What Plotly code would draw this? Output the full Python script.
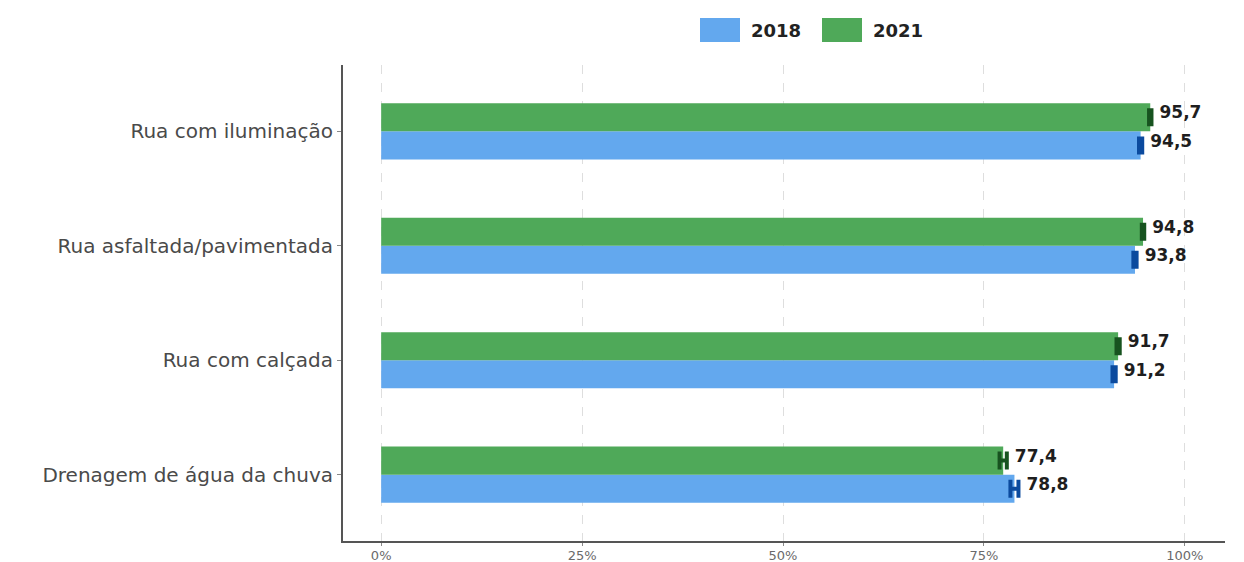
import plotly.graph_objects as go

categories = ["Drenagem de água da chuva", "Rua com calçada", "Rua asfaltada/pavimentada", "Rua com iluminação"]
series_names = ["2018", "2021"]
values_2018 = [78.8, 91.2, 93.8, 94.5]
values_2021 = [77.4, 91.7, 94.8, 95.7]
ci_2018 = [0.5, 0.2, 0.2, 0.2]
ci_2021 = [0.45, 0.2, 0.15, 0.15]
labels_2018 = ["78,8", "91,2", "93,8", "94,5"]
labels_2021 = ["77,4", "91,7", "94,8", "95,7"]
x_ticks = [0, 25, 50, 75, 100]
x_tick_labels = ["0%", "25%", "50%", "75%", "100%"]

blue = "#63a8ee"
green = "#4fa959"
dark_blue = "#0b4a9e"
dark_green = "#17531f"
font_family = "'DejaVu Sans', 'Open Sans', sans-serif"

W, H = 1244, 562
OFF = 8  # page body margin offset
ML, MR = 343 - OFF, 1244 - (1225 - OFF)
MT, MB = 65 - OFF, (562 + OFF) - 541

fig = go.Figure()
fig.add_trace(go.Bar(
    y=categories, x=values_2018, orientation="h", name=series_names[0],
    marker=dict(color=blue, line=dict(width=0)),
    error_x=dict(type="data", array=ci_2018, color=dark_blue, thickness=4, width=9),
    showlegend=False,
))
fig.add_trace(go.Bar(
    y=categories, x=values_2021, orientation="h", name=series_names[1],
    marker=dict(color=green, line=dict(width=0)),
    error_x=dict(type="data", array=ci_2021, color=dark_green, thickness=4, width=9),
    showlegend=False,
))

label_font = dict(family=font_family, size=17, color="#1e1e1e", weight="bold")
cat_index = list(range(len(categories)))
fig.add_trace(go.Scatter(
    x=[v + c + 1.0 for v, c in zip(values_2018, ci_2018)],
    y=[i - 0.1 for i in cat_index], yaxis="y2",
    mode="text", text=labels_2018, textposition="middle right",
    textfont=label_font, showlegend=False, hoverinfo="skip",
))
fig.add_trace(go.Scatter(
    x=[v + c + 1.0 for v, c in zip(values_2021, ci_2021)],
    y=[i + 0.15 for i in cat_index], yaxis="y2",
    mode="text", text=labels_2021, textposition="middle right",
    textfont=label_font, showlegend=False, hoverinfo="skip",
))

# custom legend (large swatches like the reference)
pw = W - ML - MR
ph = H - MT - MB
def px_x(p):
    return (p - OFF - ML) / pw
def px_y(p):
    return (H - MB - (p - OFF)) / ph

legend_items = [(series_names[0], blue, 700), (series_names[1], green, 822)]
for name, col, x0 in legend_items:
    fig.add_shape(type="rect", xref="paper", yref="paper",
                  x0=px_x(x0), x1=px_x(x0 + 40), y0=px_y(42), y1=px_y(18),
                  fillcolor=col, line=dict(width=0))
    fig.add_annotation(xref="paper", yref="paper", x=px_x(x0 + 49), y=px_y(30),
                       text=name, showarrow=False, xanchor="left", yanchor="middle",
                       font=dict(family=font_family, size=18, color="#222222", weight="bold"))

yrange = [-0.58, 3.58]
fig.update_layout(
    width=W, height=H,
    margin=dict(l=ML, r=MR, t=MT, b=MB),
    paper_bgcolor="white", plot_bgcolor="white",
    barmode="group", bargap=0.51, bargroupgap=0,
    font=dict(family=font_family, color="#444444", size=14),
    showlegend=False,
    xaxis=dict(range=[-4.75, 105], tickvals=x_ticks, ticktext=x_tick_labels,
               showgrid=True, gridcolor="#dedede", griddash="dash", gridwidth=1,
               zeroline=False, showline=True, linecolor="#555555", linewidth=2,
               ticks="outside", ticklen=3, tickcolor="#888888", automargin=False,
               ticklabelstandoff=-2,
               tickfont=dict(size=13, color="#6a6a6a")),
    yaxis=dict(range=yrange, showgrid=False, zeroline=False, showline=True,
               linecolor="#555555", linewidth=2, ticks="outside", ticklen=4,
               tickcolor="#888888", automargin=False,
               tickfont=dict(size=20, color="#4a4a4a")),
    yaxis2=dict(range=yrange, overlaying="y", visible=False, showgrid=False),
)

fig.write_html("out.html")
